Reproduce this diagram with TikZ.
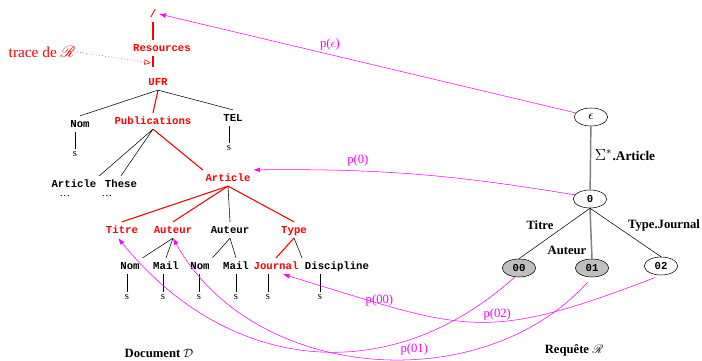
\documentclass[tikz,border=0pt]{standalone}
\usepackage{fontspec}
\setmainfont{Liberation Serif}
\setmonofont{Liberation Mono}
\usepackage{amsmath}
\usepackage{mathrsfs}
\usetikzlibrary{arrows.meta,shapes.geometric}
\definecolor{pmag}{RGB}{255,0,255}
\tikzstyle{tag} = [font=\ttfamily\bfseries\footnotesize, inner sep=2pt, text height=1.5ex, text depth=.2ex]
\tikzstyle{sel} = [tag, text=red]
\tikzstyle{leaf} = [font=\footnotesize, inner sep=1.5pt]
\tikzstyle{qnode} = [draw, ellipse, minimum width=25pt, minimum height=13.5pt, inner sep=0pt, font=\ttfamily\bfseries\footnotesize]
\tikzstyle{hit} = [qnode, fill=gray!50]
\tikzstyle{lbl} = [font=\bfseries\fontsize{9.5}{11}\selectfont, inner sep=1pt]
\tikzstyle{proj} = [pmag, -{Latex[length=5pt,width=3.5pt]}]
\tikzstyle{plab} = [text=pmag, font=\fontsize{9.5}{11}\selectfont, inner sep=1pt]
\tikzstyle{trace} = [red, line width=0.8pt]
\tikzstyle{query} = [gray, line width=1.1pt]

\begin{document}
\begin{tikzpicture}[x=0.75pt, y=0.75pt]
	\useasboundingbox (0,0) rectangle (702,360);

	% document D
	\node[sel] (root) at (153,346) {/};
	\node[sel] (res) at (162,312) {Resources};
	\node[sel] (ufr) at (158,278) {UFR};
	\node[tag] (nom0) at (80,236) {Nom};
	\node[sel] (pub) at (153,239) {Publications};
	\node[tag] (tel) at (233,242) {TEL};
	\node[leaf] (s0) at (75,206) {s};
	\node[leaf] (s1) at (229,212) {s};
	\node[tag] (art0) at (74,176) {Article};
	\node[tag] (these) at (121,176) {These};
	\node[leaf] (d0) at (65,164) {\ldots};
	\node[leaf] (d1) at (107,164) {\ldots};
	\node[sel] (art) at (228,182) {Article};
	\node[sel] (titre) at (122,130) {Titre};
	\node[sel] (aut1) at (173,130) {Auteur};
	\node[tag] (aut2) at (230,130) {Auteur};
	\node[sel] (type) at (294,130) {Type};
	\node[tag] (nomA) at (130,94) {Nom};
	\node[tag] (mailA) at (166,94) {Mail};
	\node[tag] (nomB) at (200,94) {Nom};
	\node[tag] (mailB) at (236,94) {Mail};
	\node[sel] (journal) at (276,94) {Journal};
	\node[tag] (disc) at (337,94) {Discipline};
	\node[leaf] (sA) at (127,63) {s};
	\node[leaf] (sB) at (163,63) {s};
	\node[leaf] (sC) at (199,63) {s};
	\node[leaf] (sD) at (236,63) {s};
	\node[leaf] (sE) at (268,63) {s};
	\node[leaf] (sF) at (320,63) {s};

	\draw[trace] (root.south) -- (root.south |- res.north);
	\draw[trace, shorten >=5pt] (root |- res.south) -- (root |- ufr.north);
	\draw[trace] (ufr.south) -- (pub.north);
	\draw (ufr.south) -- (nom0.north);
	\draw (ufr.south) -- (tel.north);
	\draw (s0.north) -- (s0 |- nom0.south);
	\draw (s1.north) -- (s1 |- tel.south);
	\draw (pub.south) -- (art0.north east);
	\draw (pub.south) -- (these.north);
	\draw[trace] (pub.south) -- (art.north west);
	\draw[trace] (art.south) -- (titre.north);
	\draw[trace] (art.south) -- (aut1.north);
	\draw (art.south) -- (aut2.north);
	\draw[trace] (art.south) -- (type.north);
	\draw (aut1.south) -- (nomA.north east);
	\draw (aut1.south) -- (mailA.north);
	\draw (aut2.south) -- (nomB.north east);
	\draw (aut2.south) -- (mailB.north);
	\draw[trace] (type.south) -- (journal.north);
	\draw (type.south) -- (disc.north west);
	\foreach \s/\t in {sA/nomA, sB/mailA, sC/nomB, sD/mailB, sE/journal, sF/disc}
		\draw (\s.north) -- (\s |- \t.south);

	\node[lbl] (doc) at (159,7) {Document $\mathcal{D}$};
	\node[text=red, font=\fontsize{11.5}{13}\selectfont, inner sep=1pt] (trace) at (42,308) {trace de $\mathscr{R}$};
	\coordinate (hook) at (151,297);
	\draw[red, dotted, -{Triangle[open,length=5pt,width=4pt]}] (trace.east) -- (hook);

	% query R
	\node[qnode] (eps) at (591,243) {\normalsize$\epsilon$};
	\node[qnode] (q0) at (590,161) {0};
	\node[hit] (q00) at (519,92) {00};
	\node[hit] (q01) at (592,92) {01};
	\node[qnode] (q02) at (661,94) {02};
	\draw[query] (eps) -- (q0);
	\draw[query] (q0.south) -- (q01.north);
	\draw (q0.south) -- (q00.north);
	\draw (q0.south) -- (q02.north);
	\node[lbl] (lsig) at (625,205) {\large$\Sigma^*$\normalsize.Article};
	\node[lbl] (ltitre) at (540,135) {Titre};
	\node[lbl] (laut) at (567,110) {Auteur};
	\node[lbl] (ltype) at (664,135) {Type.Journal};
	\node[lbl] (req) at (574,10) {Requête $\mathscr{R}$};

	% projections
	\draw[proj] (eps.165) -- node[plab, above=2pt, pos=0.59] (peps) {p($\epsilon$)} (root.east);
	\draw[proj] (q0.165) to[bend right=5] node[plab, above=2pt, pos=0.69] (p0) {p(0)} (art.north east);
	\draw[proj, shorten <=5pt] (q02.south) to[out=201, in=-17, looseness=1.3]
		node[plab, anchor=south, pos=0.42] (p02) {p(02)}
		node[plab, anchor=south, pos=0.79, yshift=-3pt] (p00) {p(00)} (journal.-50);
	\draw[proj] (q00.-115) to[out=222, in=-51, looseness=1.1] (titre.-115);
	\draw[proj, shorten <=5pt] (q01.south) to[out=228, in=-61]
		node[plab, anchor=south east, pos=0.38] (p01) {p(01)} (aut1.south);
\end{tikzpicture}
\end{document}
